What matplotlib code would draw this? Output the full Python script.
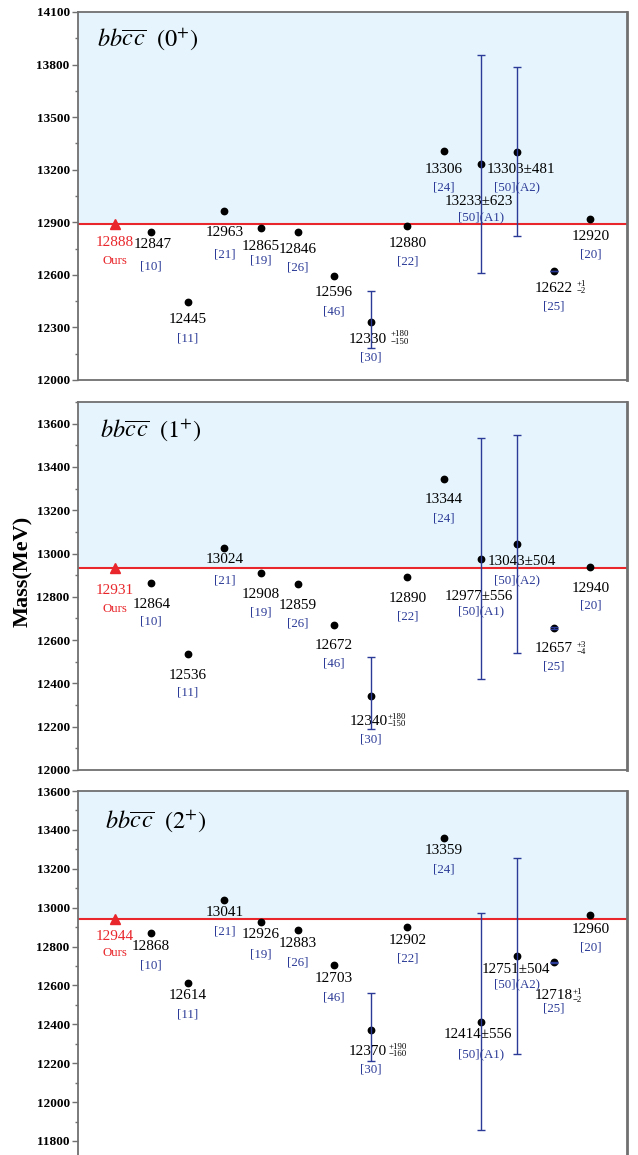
import matplotlib
matplotlib.use('Agg')
import matplotlib.pyplot as plt
from matplotlib.ticker import MultipleLocator

plt.rcParams['font.family'] = ['Liberation Serif', 'DejaVu Serif']
plt.rcParams['mathtext.fontset'] = 'stix'

# ---------------- data ----------------
REFS = ['[10]', '[11]', '[21]', '[19]', '[26]', '[46]', '[30]', '[22]', '[24]',
        '[50](A1)', '[50](A2)', '[25]', '[20]']
JP = ['0', '1', '2']
OURS = [12888, 12931, 12944]

MASS_0 = [12847, 12445, 12963, 12865, 12846, 12596, 12330, 12880, 13306, 13233, 13303, 12622, 12920]
EPLUS_0 = [0, 0, 0, 0, 0, 0, 180, 0, 0, 623, 481, 1, 0]
EMINUS_0 = [0, 0, 0, 0, 0, 0, 150, 0, 0, 623, 481, 2, 0]

MASS_1 = [12864, 12536, 13024, 12908, 12859, 12672, 12340, 12890, 13344, 12977, 13043, 12657, 12940]
EPLUS_1 = [0, 0, 0, 0, 0, 0, 180, 0, 0, 556, 504, 3, 0]
EMINUS_1 = [0, 0, 0, 0, 0, 0, 150, 0, 0, 556, 504, 4, 0]

MASS_2 = [12868, 12614, 13041, 12926, 12883, 12703, 12370, 12902, 13359, 12414, 12751, 12718, 12960]
EPLUS_2 = [0, 0, 0, 0, 0, 0, 190, 0, 0, 556, 504, 1, 0]
EMINUS_2 = [0, 0, 0, 0, 0, 0, 160, 0, 0, 556, 504, 2, 0]

# symmetric-error entries are written with ±, asymmetric ones with stacked scripts
SYMMETRIC = [False] * 9 + [True, True] + [False, False]

YLIMS = [(12000, 14100), (12000, 13700), (11700, 13600)]
YMAJOR = [300, 200, 200]
YMINOR = [150, 100, 100]

# ---------------- layout (pixel offsets below the marker) ----------------
VAL_OFF = [
    [(2, 13), (0, 17.5), (0, 21.5), (0, 18), (0, 18), (0, 17), (-3.5, 17.5), (0, 18), (0, 18),
     (-2, 37.5), (4, 17.5), (0, 17), (0, 18)],
    [(0.7, 21.7), (0, 21.3), (0, 11.3), (0, 21.3), (0, 21.3), (0, 21), (-2.5, 24.7), (0, 21.3), (0, 20.7),
     (-1.7, 38), (4.7, 17.3), (0, 21), (0, 21.7)],
    [(0, 12.7), (0, 13.3), (0, 12.7), (0, 12.7), (0, 12.7), (0, 13.3), (-3, 21.7), (0, 13.7), (0, 12.7),
     (-2.3, 13.3), (-1.8, 13), (0, 33.3), (0, 13.7)],
]
REF_OFF = [
    [35, 36, 43, 32, 36, 36, 35.5, 36, 36, 53, 35.5, 35, 36],
    [39, 38.7, 32, 38.7, 39, 39, 43, 39, 39, 53, 35.7, 39, 39.3],
    [32, 32.3, 31.7, 32, 32, 32, 39.3, 32, 31.7, 32.3, 28.3, 45.7, 32],
]
# asymmetric script positions: index -> (dx_left, dy_sup, dy_sub)
SCRIPT_OFF = [
    {6: (19.7, 11.7, 19.7), 11: (23, 13, 20.3)},
    {6: (17, 20.7, 28), 11: (22.3, 17.3, 24)},
    {6: (17.7, 16.7, 24), 11: (19, 29.7, 37.3)},
]
OURS_OFF = [(18.5, 37), (22, 41), (18.3, 34.7)]
TITLE_POS = [(19, 27), (22, 28), (27, 30)]  # px from axes left / top

AX_RECTS = [
    (78, 12, 380),
    (78, 402, 770),
    (78, 791, 1160.4),
]

W, H = 638, 1155
NAVY = '#2b3a96'
REFC = '#2b3a96'
RED = '#e8262b'
FILL = '#e6f5fd'
SPINE = '#707070'

fig = plt.figure(figsize=(W / 100, H / 100), dpi=100)

panels = [(MASS_0, EPLUS_0, EMINUS_0), (MASS_1, EPLUS_1, EMINUS_1), (MASS_2, EPLUS_2, EMINUS_2)]

for p, (mass, ep, em) in enumerate(panels):
    left, top, bot = AX_RECTS[p]
    right = 627
    ax = fig.add_axes([left / W, 1 - bot / H, (right - left) / W, (bot - top) / H])
    ax.set_xlim(-1, 14)
    ax.set_ylim(*YLIMS[p])
    ours = OURS[p]
    ax.axhspan(ours, YLIMS[p][1], color=FILL, zorder=0, lw=0)
    ax.axhline(ours, color=RED, lw=1.5, zorder=2)

    xs = list(range(1, len(mass) + 1))
    ax.plot(xs, mass, 'o', color='black', ms=4.6, zorder=3, mec='black')
    for i, x in enumerate(xs):
        if ep[i] or em[i]:
            ax.errorbar([x], [mass[i]], yerr=[[em[i]], [ep[i]]], fmt='none', ecolor=NAVY,
                        elinewidth=1.0, capsize=3.2, capthick=1.0, zorder=4)
    ax.plot([0], [ours], '^', color=RED, ms=7, zorder=5, mec=RED)

    # ours labels
    ax.annotate(str(ours), (0, ours), xytext=(0, -OURS_OFF[p][0]), textcoords='offset pixels',
                ha='center', va='center', color=RED, fontsize=11)
    ax.annotate('Ours', (0, ours), xytext=(0, -OURS_OFF[p][1]), textcoords='offset pixels',
                ha='center', va='center', color=RED, fontsize=9.3)

    for i, x in enumerate(xs):
        dx, dy = VAL_OFF[p][i]
        if SYMMETRIC[i]:
            txt = f'{mass[i]}\u00b1{ep[i]}'
            fs = 10.8
        else:
            txt = f'{mass[i]}'
            fs = 11
        ax.annotate(txt, (x, mass[i]), xytext=(dx, -dy), textcoords='offset pixels',
                    ha='center', va='center', color='black', fontsize=fs, zorder=3)
        if i in SCRIPT_OFF[p]:
            sx, sup, sub = SCRIPT_OFF[p][i]
            ax.annotate(f'+{ep[i]}', (x, mass[i]), xytext=(sx, -sup), textcoords='offset pixels',
                        ha='left', va='center', color='black', fontsize=6.3)
            ax.annotate(f'\u2212{em[i]}', (x, mass[i]), xytext=(sx, -sub), textcoords='offset pixels',
                        ha='left', va='center', color='black', fontsize=6.3)
        ax.annotate(REFS[i], (x, mass[i]), xytext=(0, -REF_OFF[p][i]), textcoords='offset pixels',
                    ha='center', va='center', color=REFC, fontsize=9.3, zorder=3)

    # title
    tx, ty = TITLE_POS[p]
    ax.text(tx / (right - left), 1 - ty / (bot - top),
            r'$bb\overline{c}\hspace{0.1}\overline{c}\ \ \mathrm{(' + JP[p] + r'^{+})}$',
            transform=ax.transAxes, ha='left', va='center', fontsize=17.5)

    ax.yaxis.set_major_locator(MultipleLocator(YMAJOR[p]))
    ax.yaxis.set_minor_locator(MultipleLocator(YMINOR[p]))
    ax.set_xticks([])
    ax.tick_params(axis='y', which='major', direction='out', length=4, width=1, color=SPINE,
                   labelsize=9.5, pad=2)
    ax.tick_params(axis='y', which='minor', direction='out', length=2.5, width=1, color=SPINE)
    for lab in ax.get_yticklabels():
        lab.set_fontweight('bold')
    for side, sp in ax.spines.items():
        sp.set_color(SPINE)
        sp.set_linewidth(1.3)
    ax.spines['right'].set_linewidth(2.0)
    if p == 2:
        ax.spines['bottom'].set_visible(False)

fig.text(23 / W, 1 - 571 / H, 'Mass(MeV)', rotation=90, ha='center', va='center',
         fontsize=16, fontweight='bold')

fig.savefig('out.png', dpi=100)
